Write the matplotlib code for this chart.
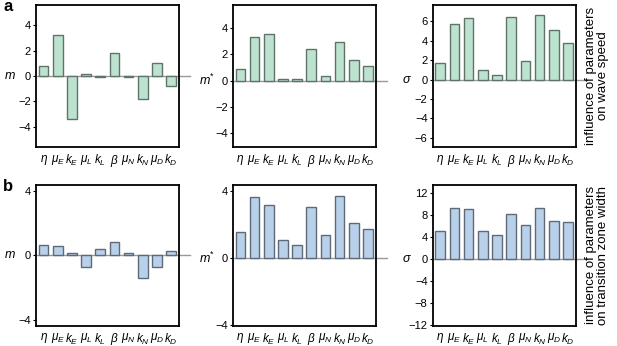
import matplotlib
matplotlib.use("Agg")
import matplotlib.pyplot as plt
import matplotlib.transforms as mtransforms

plt.rcParams['font.family'] = ['Liberation Sans', 'DejaVu Sans']
plt.rcParams['mathtext.fontset'] = 'custom'
plt.rcParams['mathtext.rm'] = 'Liberation Sans'
plt.rcParams['mathtext.it'] = 'Liberation Sans:italic'

# parameter names
params = [r'$\eta$', r'$\mu_E$', r'$k_E$', r'$\mu_L$', r'$k_L$',
          r'$\beta$', r'$\mu_N$', r'$k_N$', r'$\mu_D$', r'$k_D$']

# row a: influence on wave speed
a_m = [0.8, 3.25, -3.4, 0.15, -0.05, 1.8, -0.05, -1.8, 1.05, -0.8]
a_mstar = [0.85, 3.3, 3.55, 0.15, 0.1, 2.4, 0.35, 2.9, 1.55, 1.1]
a_sigma = [1.7, 5.75, 6.3, 1.0, 0.5, 6.4, 1.95, 6.7, 5.1, 3.75]

# row b: influence on transition zone width
b_m = [0.65, 0.6, 0.15, -0.75, 0.4, 0.85, 0.15, -1.4, -0.75, 0.25]
b_mstar = [1.55, 3.65, 3.2, 1.1, 0.8, 3.05, 1.4, 3.75, 2.1, 1.75]
b_sigma = [5.0, 9.2, 9.0, 5.0, 4.3, 8.2, 6.2, 9.2, 6.9, 6.6]

ylabels = [r'$m$', r'$m^{*}$', r'$\sigma$']

green = '#bde3d0'
green_edge = '#5f7468'
blue = '#b8d0ea'
blue_edge = '#5f6a78'

fig = plt.figure(figsize=(6.17, 3.46), dpi=100)

lefts = [0.058, 0.377, 0.701]
w = 0.232

rows = [
    dict(data=[a_m, a_mstar, a_sigma], bottom=0.575, top=0.986,
         ylims=[(-5.6, 5.6), (-5.05, 5.75), (-6.95, 7.7)],
         ticks=[[-4, -2, 0, 2, 4], [-4, -2, 0, 2, 4], [-6, -4, -2, 0, 2, 4, 6]],
         color=green, edge=green_edge,
         note='influence of parameters\non wave speed', letter='a'),
    dict(data=[b_m, b_mstar, b_sigma], bottom=0.058, top=0.466,
         ylims=[(-4.4, 4.4), (-4.05, 4.4), (-12.1, 13.4)],
         ticks=[[-4, 0, 4], [-4, 0, 4], [-12, -8, -4, 0, 4, 8, 12]],
         color=blue, edge=blue_edge,
         note='influence of parameters\non transition zone width', letter='b'),
]

x = list(range(len(params)))

for row in rows:
    for i in range(3):
        ax = fig.add_axes([lefts[i], row['bottom'], w, row['top'] - row['bottom']])
        ax.bar(x, row['data'][i], width=0.68, color=row['color'],
               edgecolor=row['edge'], linewidth=1.0, zorder=3)
        ax.set_xlim(-0.55, 9.55)
        ax.set_ylim(*row['ylims'][i])
        ax.set_yticks(row['ticks'][i])
        ax.set_yticklabels([str(t).replace('-', '\u2212') for t in row['ticks'][i]])
        ax.set_xticks(x)
        ax.set_xticklabels(params, fontsize=8.5)
        ax.tick_params(axis='x', length=0, pad=4)
        ax.tick_params(axis='y', length=2, width=0.8, labelsize=8, pad=1.5)
        for s in ax.spines.values():
            s.set_linewidth(1.3)
        ax.axhline(0, xmin=0, xmax=1.08, color='#999999', lw=1.0,
                   clip_on=False, zorder=2)
        trans = mtransforms.blended_transform_factory(ax.transAxes, ax.transData)
        ax.text(-0.18, 0, ylabels[i], transform=trans, ha='center',
                va='center', fontsize=9)
    fig.text(0.967, (row['bottom'] + row['top']) / 2, row['note'],
             rotation=90, ha='center', va='center', fontsize=9.5,
             linespacing=1.0)
    fig.text(0.005, row['top'] - 0.005, row['letter'], fontsize=12,
             fontweight='bold', ha='left', va='center')

fig.savefig('out.png', dpi=100)
